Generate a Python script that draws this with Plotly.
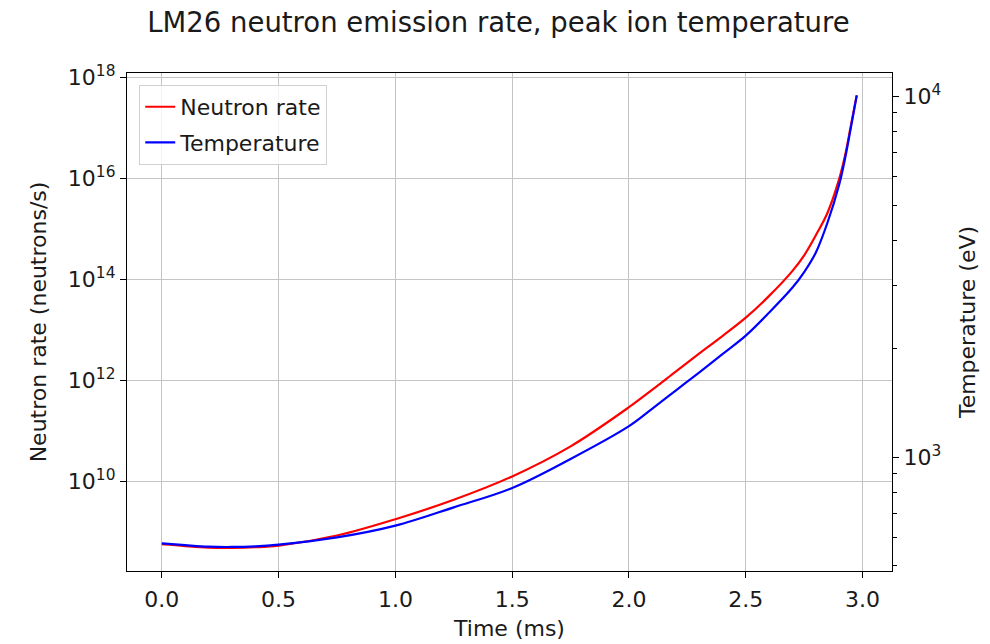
import plotly.graph_objects as go

# Time (ms)
time_ms = [0.0, 0.1, 0.2, 0.3, 0.4, 0.5, 0.75, 1.0, 1.25, 1.5, 1.75, 2.0, 2.1, 2.2, 2.3,
           2.4, 2.5, 2.6, 2.7, 2.75, 2.8, 2.85, 2.9, 2.925, 2.95, 2.975]
# log10 of neutron rate (neutrons/s)
neutron_log = [8.754, 8.718, 8.689, 8.683, 8.695, 8.728, 8.927, 9.25, 9.635, 10.097,
               10.692, 11.466, 11.813, 12.171, 12.528, 12.875, 13.238, 13.669, 14.165,
               14.472, 14.869, 15.315, 15.984, 16.446, 17.042, 17.637]
# log10 of peak ion temperature (eV)
temp_log = [2.7616, 2.7566, 2.7524, 2.7516, 2.7533, 2.758, 2.778, 2.8106, 2.8614, 2.9152,
            2.9956, 3.0865, 3.135, 3.1849, 3.2348, 3.2861, 3.3374, 3.4012, 3.4705,
            3.5134, 3.5675, 3.6507, 3.756, 3.828, 3.914, 4.003]

neutron_rate = [10 ** v for v in neutron_log]
temperature = [10 ** v for v in temp_log]

left_exps = [10, 12, 14, 16, 18]
right_exps = [3, 4]
x_ticks = [0.0, 0.5, 1.0, 1.5, 2.0, 2.5, 3.0]

FONT = "DejaVu Sans"
TXT = "#1a1a1a"
FS = 22

fig = go.Figure()
fig.add_trace(go.Scatter(x=time_ms, y=neutron_rate, name="Neutron rate", mode="lines",
                         legendgroup="n",
                         line=dict(color="red", width=2.2, shape="spline", smoothing=1.0),
                         yaxis="y"))
fig.add_trace(go.Scatter(x=time_ms, y=temperature, name="Temperature", mode="lines",
                         legendgroup="t",
                         line=dict(color="blue", width=2.2, shape="spline", smoothing=1.0),
                         yaxis="y2"))

fig.update_layout(
    width=990, height=644,
    margin=dict(l=127, r=98, t=73, b=73),
    paper_bgcolor="white", plot_bgcolor="white",
    font=dict(family=FONT, size=FS, color=TXT),
    title=dict(text="LM26 neutron emission rate, peak ion temperature",
               x=0.4856, xref="paper", xanchor="center",
               y=1 - 22 / 644, yref="container", yanchor="middle",
               font=dict(size=27.5, color=TXT)),
    showlegend=True,
    legend=dict(x=0.016, y=0.976, xanchor="left", yanchor="top",
                bgcolor="rgba(255,255,255,0.8)", bordercolor="#d0d0d0", borderwidth=1,
                font=dict(size=FS, color=TXT), tracegroupgap=4),
    xaxis=dict(
        range=[-0.149, 3.126], tickmode="array", automargin=False,
        tickvals=x_ticks, ticktext=[f"{v:.1f}" for v in x_ticks],
        showline=True, linecolor="black", linewidth=1.3, mirror=True,
        ticks="outside", ticklen=6, tickwidth=1.2, tickcolor="black",
        ticklabelstandoff=2,
        showgrid=True, gridcolor="#c4c4c4", gridwidth=1.2, zeroline=False,
        title=dict(text="Time (ms)", standoff=10, font=dict(size=FS)),
    ),
    yaxis=dict(
        type="log", range=[8.225, 18.08], tickmode="array", automargin=False,
        tickvals=[10 ** e for e in left_exps],
        ticktext=[f"10<sup>{e}</sup>" for e in left_exps],
        showline=True, linecolor="black", linewidth=1.3,
        ticks="outside", ticklen=6, tickwidth=1.2, tickcolor="black",
        showgrid=True, gridcolor="#c4c4c4", gridwidth=1.2, zeroline=False,
        title=dict(text="Neutron rate (neutrons/s)", standoff=15, font=dict(size=FS)),
    ),
    yaxis2=dict(
        type="log", range=[2.685, 4.065], overlaying="y", side="right", automargin=False,
        tickmode="array",
        tickvals=[10 ** e for e in right_exps],
        ticktext=[f"10<sup>{e}</sup>" for e in right_exps],
        showline=True, linecolor="black", linewidth=1.3,
        ticks="outside", ticklen=6, tickwidth=1.2, tickcolor="black",
        minor=dict(tickmode="array",
                   tickvals=[k * 10 ** e for e in (2, 3) for k in range(2, 10)],
                   ticks="outside", ticklen=3.5, tickwidth=1, tickcolor="black",
                   showgrid=False),
        showgrid=False, zeroline=False,
        title=dict(text="Temperature (eV)", standoff=19, font=dict(size=FS)),
    ),
)

fig.write_html("out.html")
